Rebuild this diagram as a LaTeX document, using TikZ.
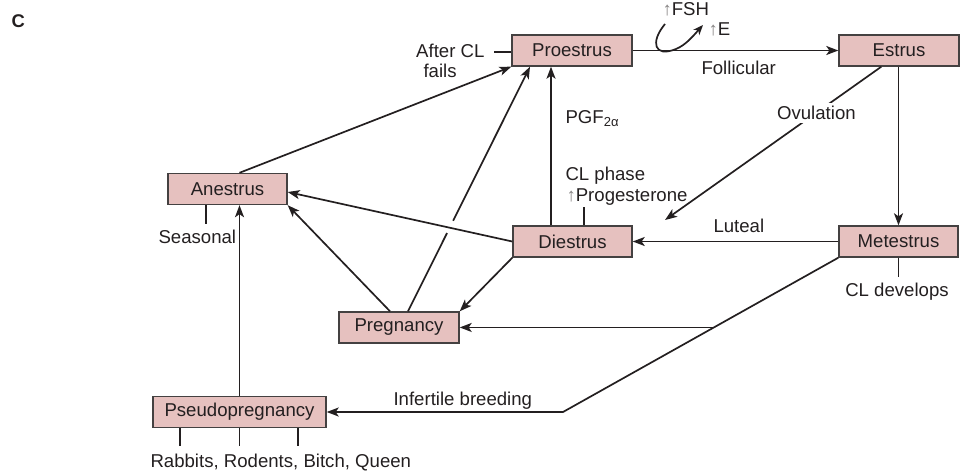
\documentclass[tikz,border=0pt]{standalone}
\usepackage{fontspec}
\setmainfont{Liberation Sans}
\usetikzlibrary{arrows.meta,calc}

\definecolor{boxfill}{RGB}{230,193,191}
\definecolor{ink}{RGB}{35,31,32}
\newcommand{\up}{{\color{ink!55}↑}}

\begin{document}
\begin{tikzpicture}[x=1pt,y=-1pt,
    every node/.style={font=\fontsize{18.6}{22}\selectfont, text=ink},
    stage/.style={draw=ink!85, line width=1.4pt, fill=boxfill, minimum height=31pt, inner sep=0pt},
    arr/.style={-{Stealth[length=12pt,width=9pt,inset=3pt]}, line width=1.7pt, draw=ink},
    tick/.style={line width=1.7pt, draw=ink}]
    %\tikzset{every node/.style={draw}}
    \useasboundingbox (0,0) rectangle (963,472);

    \node[font=\fontsize{18.4}{22}\selectfont\bfseries, anchor=base west] (panel) at (8,27) {C};

    % the stages
    \node[stage, minimum width=120pt] (pro) at (572,50.5) {Proestrus};
    \node[stage, minimum width=120pt] (est) at (899,50.5) {Estrus};
    \node[stage, minimum width=119pt] (ane) at (227.5,189) {Anestrus};
    \node[stage, minimum width=119pt] (dies) at (572.5,241.5) {Diestrus};
    \node[stage, minimum width=119pt] (met) at (898.5,241.5) {Metestrus};
    \node[stage, minimum width=120pt] (preg) at (399,327.5) {Pregnancy};
    \node[stage, minimum width=173pt] (pseudo) at (239.5,412) {Pseudopregnancy};

    % cycle
    \draw[arr] (pro.east) -- (est.west);
    \draw[arr] (est.south -| met.north) -- (met.north);
    \draw[arr] (met.west) -- (dies.east);
    \draw[arr] (est.south west) ++(43,0) -- node[pos=0.3, fill=white, inner sep=3pt] (ovu) {Ovulation} (665,220);
    \draw[arr] ([xshift=-21.5pt]dies.north) -- ([xshift=-21.5pt]dies.north |- pro.south);

    % FSH hook
    \draw[arr, -{Stealth[length=10pt,width=8pt,inset=3pt]}] (665,24) .. controls (650,42) and (654,58) .. (676,49)
        .. controls (686,45) and (694,35) .. (703,25);
    \node[anchor=base west] (fsh) at (659,15) {\up FSH};
    \node[anchor=base west] (estr) at (705,35) {\up E};

    % to and from anestrus
    \draw[arr] (pseudo.north |- ane.north) -- (pro.south west);
    \draw[arr] (dies.west) -- ([yshift=-3pt]ane.east);
    \draw[arr] ([xshift=-9pt]preg.north) -- (ane.south east);
    \draw[arr] (pseudo.north) -- (pseudo.north |- ane.south);

    % pregnancy
    \coordinate (p0) at ([xshift=9pt]preg.north);
    \coordinate (p1) at ([xshift=-42pt]pro.south);
    \draw[line width=1.7pt, draw=ink] (p0) -- ($(p0)!0.32!(p1)$);
    \draw[arr] ($(p0)!0.37!(p1)$) -- (p1);
    \draw[arr] (dies.south west) -- (preg.north east);

    % metestrus branches
    \coordinate (bend) at (563,412);
    \coordinate (split) at ($(met.south west)!0.452!(bend)$);
    \draw[arr] (met.south west) -- (bend) -- (pseudo.east);
    \draw[arr] (split) -- (split -| preg.east);

    % ticks
    \draw[tick] ([yshift=-1.5pt]pro.west) -- ++(-17,0);
    \draw[tick] ([xshift=-21.5pt]ane.south) -- ++(0,19);
    \draw[tick] ([xshift=11.5pt]dies.north) -- ++(0,-18);
    \draw[tick] (met.south) -- ++(0,19);
    \foreach \dx in {-59.5,0,58.5}
        \draw[tick] ([xshift=\dx pt]pseudo.south) -- ++(0,18);

    % labels
    \node[anchor=base east] (after) at (488,57) {After CL};
    \node[anchor=base west] (fails) at (420,77) {fails};
    \node[anchor=base west] (foll) at (698,74) {Follicular};
    \node[anchor=base west] (pgf) at (562,123) {PGF\textsubscript{2α}};
    \node[anchor=base west] (clph) at (562,180) {CL phase};
    \node[anchor=base west] (prog) at (563,201) {\up Progesterone};
    \node[anchor=base west] (lut) at (710,232) {Luteal};
    \node[anchor=base west] (seas) at (155,243) {Seasonal};
    \node[anchor=base] (cldev) at (897,296) {CL develops};
    \node[anchor=base west] (infert) at (390,405) {Infertile breeding};
    \node[anchor=base west] (species) at (147,467) {Rabbits, Rodents, Bitch, Queen};
\end{tikzpicture}
\end{document}
